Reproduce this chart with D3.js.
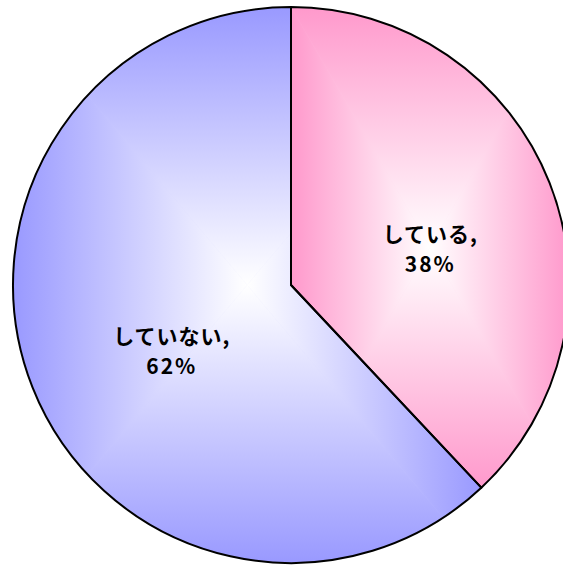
<!DOCTYPE html>
<html>
<head>
<meta charset="utf-8">
<script src="https://cdnjs.cloudflare.com/ajax/libs/d3/7.8.5/d3.min.js"></script>
<style>
body { margin: 0; background: #fff; }
.label { font-family: "Noto Sans CJK JP", sans-serif; font-weight: bold; font-size: 21px; fill: #000; text-anchor: middle; }
</style>
</head>
<body>
<svg id="vis" width="563" height="566"></svg>
<script>
var categories = ["している", "していない"];
var values = [38, 62];
var edgeColors = ["#FF99CC", "#9999FF"];

var svg = d3.select("#vis");
var cx = 291, cy = 285, radius = 278;

var pie = d3.pie().sort(null).value(d => d);
var arc = d3.arc().innerRadius(0).outerRadius(radius);
var labelArc = d3.arc().innerRadius(radius * 0.5).outerRadius(radius * 0.5);

var arcs = pie(values);
var defs = svg.append("defs");
var g = svg.append("g").attr("transform", `translate(${cx},${cy})`);

// each slice gets its own "from centre" rectangular gradient, like excel
arcs.forEach(function(a, i) {
  var clipId = "clip" + i;
  defs.append("clipPath").attr("id", clipId)
    .append("path").attr("d", arc(a));

  var tmp = g.append("path").attr("d", arc(a));
  var bb = tmp.node().getBBox();
  tmp.remove();
  var x0 = bb.x, y0 = bb.y, x1 = bb.x + bb.width, y1 = bb.y + bb.height;
  var mx = (x0 + x1) / 2, my = (y0 + y1) / 2;

  var sides = [
    {pts: [[x0, y0], [x1, y0], [mx, my]], from: [mx, y0]},
    {pts: [[x0, y1], [x1, y1], [mx, my]], from: [mx, y1]},
    {pts: [[x0, y0], [x0, y1], [mx, my]], from: [x0, my]},
    {pts: [[x1, y0], [x1, y1], [mx, my]], from: [x1, my]}
  ];

  var sg = g.append("g").attr("clip-path", `url(#${clipId})`);
  sg.append("rect").attr("x", x0).attr("y", y0)
    .attr("width", bb.width).attr("height", bb.height)
    .attr("fill", d3.interpolateRgb("#fff", edgeColors[i])(0.5));

  sides.forEach(function(s, k) {
    var gid = "grad" + i + "_" + k;
    var lg = defs.append("linearGradient").attr("id", gid)
      .attr("gradientUnits", "userSpaceOnUse")
      .attr("x1", s.from[0]).attr("y1", s.from[1])
      .attr("x2", mx).attr("y2", my);
    lg.append("stop").attr("offset", 0).attr("stop-color", edgeColors[i]);
    lg.append("stop").attr("offset", 1).attr("stop-color", "#fff");
    sg.append("polygon")
      .attr("points", s.pts.map(p => p.join(",")).join(" "))
      .attr("fill", `url(#${gid})`)
      .attr("stroke", `url(#${gid})`)
      .attr("stroke-width", 0.6);
  });
});

g.selectAll(".slice")
  .data(arcs)
  .enter().append("path")
    .attr("class", "slice")
    .attr("d", arc)
    .attr("fill", "none")
    .attr("stroke", "#000")
    .attr("stroke-width", 2)
    .attr("stroke-linejoin", "round");

var lab = g.selectAll(".label")
  .data(arcs)
  .enter().append("text")
    .attr("class", "label")
    .attr("transform", function(d) {
      var c = labelArc.centroid(d);
      return `translate(${c[0] + 10},${c[1] + 12})`;
    });

lab.append("tspan")
  .attr("x", 0).attr("dy", "-0.2em")
  .attr("letter-spacing", "1px")
  .text((d, i) => categories[i] + ",");
lab.append("tspan")
  .attr("x", 0).attr("dy", "1.45em")
  .attr("letter-spacing", "2px")
  .text(d => d.value + "%");
</script>
</body>
</html>
